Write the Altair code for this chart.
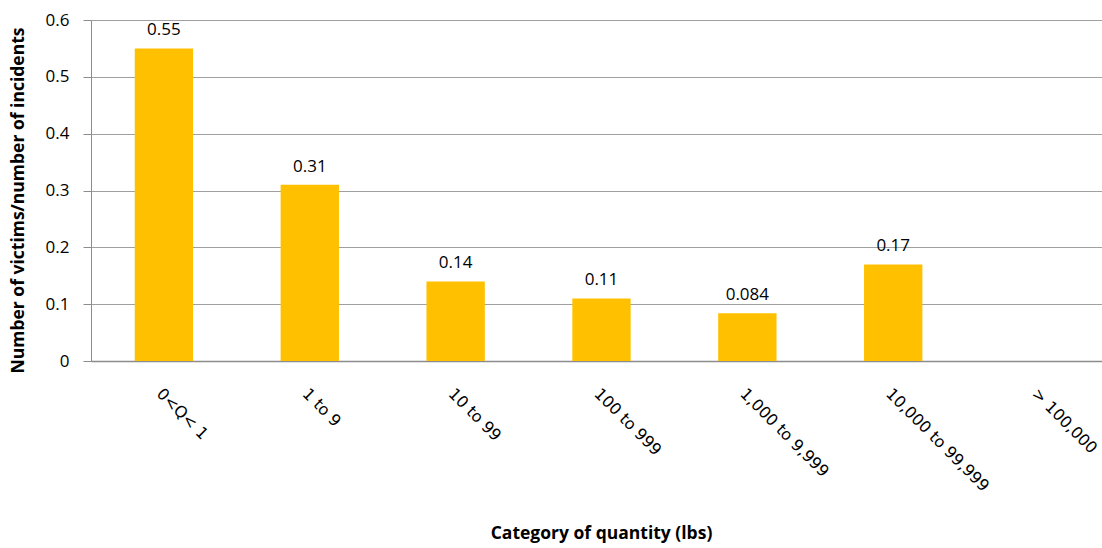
import altair as alt
import pandas as pd

# Quantity categories (lbs) and ratio of victims to incidents
categories = ["0<Q< 1", "1 to 9", "10 to 99", "100 to 999",
              "1,000 to 9,999", "10,000 to 99,999", "> 100,000"]
ratios = [0.55, 0.31, 0.14, 0.11, 0.084, 0.17, None]
ratio_labels = ["0.55", "0.31", "0.14", "0.11", "0.084", "0.17", ""]

df = pd.DataFrame({"category": categories, "ratio": ratios, "label": ratio_labels})

# the last band runs slightly past the right edge of the plot
x_scale = alt.Scale(range=[0, 1021], paddingInner=0.6, paddingOuter=0.3)

x_enc = alt.X(
    "category:N",
    sort=categories,
    scale=x_scale,
    axis=alt.Axis(
        title="Category of quantity (lbs)",
        labelAngle=45,
        labelAlign="left",
        labelBaseline="top",
        labelPadding=24,
        labelOffset=1,
        ticks=False,
        labelFont="DejaVu Sans",
        labelFontSize=16,
        labelColor="#000000",
        titleFont="Open Sans",
        titleFontSize=17.5,
        titleFontWeight="bold",
        titleColor="#000000",
        titleX=510,
        titleY=172,
        titleBaseline="middle",
        domainColor="#8c8c8c",
        domainWidth=1.5,
        labelLimit=300,
    ),
)

bars = alt.Chart(df).mark_bar(color="#FFC000").encode(
    x=x_enc,
    y=alt.Y(
        "ratio:Q",
        scale=alt.Scale(domain=[0, 0.6]),
        axis=alt.Axis(
            title="Number of victims/number of incidents",
            values=[0, 0.1, 0.2, 0.3, 0.4, 0.5, 0.6],
            format="~g",
            tickSize=8,
            tickColor="#8c8c8c",
            labelPadding=14,
            labelFont="Open Sans",
            labelFontSize=17,
            labelColor="#000000",
            titleFont="Open Sans",
            titleFontSize=17.5,
            titleFontWeight="bold",
            titleColor="#000000",
            titleX=-73,
            titleY=180,
            titleBaseline="middle",
            gridColor="#a0a0a0",
            domainColor="#8c8c8c",
        ),
    ),
)

labels = alt.Chart(df).mark_text(
    baseline="bottom", dy=-9, font="Open Sans", fontSize=17, color="#000000"
).encode(
    x=alt.X("category:N", sort=categories, scale=x_scale),
    y=alt.Y("ratio:Q"),
    text="label:N",
)

chart = (
    alt.layer(bars, labels)
    .properties(
        width=1010,
        height=341,
        autosize=alt.AutoSizeParams(type="none"),
        padding={"left": 91, "top": 20, "right": 1, "bottom": 187},
        background="#ffffff",
    )
    .configure_view(stroke=None)
)

chart.save("out.html", embed_options={"renderer": "svg", "actions": False})
